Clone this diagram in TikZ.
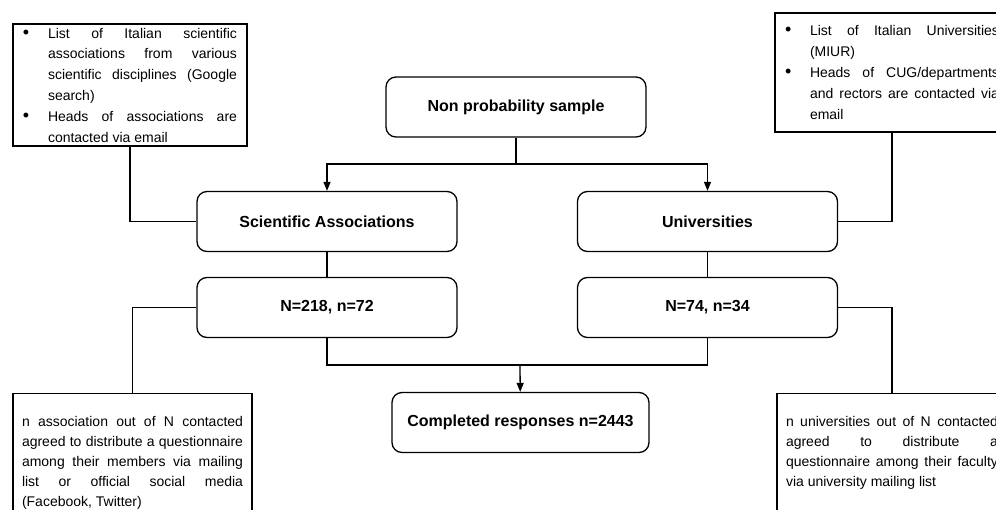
\documentclass[tikz,border=0pt]{standalone}
\usepackage{fontspec}
\setmainfont{Liberation Sans}
\usetikzlibrary{arrows.meta}
\tolerance=10000
\hbadness=10000

\def\flowboxwidth{260pt}
\newcommand{\noteitem}[1]{\noindent\hangindent=25pt\hangafter=1\makebox[25pt][l]{\fontsize{18}{18}\selectfont\textbullet}#1\par}

\begin{document}
\begin{tikzpicture}[x=1pt,y=-1pt,line width=1.3pt,
    flowbox/.style={draw,rounded corners=10pt,minimum width=\flowboxwidth,minimum height=60pt,font=\bfseries\fontsize{16}{19}\selectfont},
    notebox/.style={draw,align=justify,inner xsep=10pt,inner ysep=0pt,font=\fontsize{14}{20.8}\selectfont},
    lownote/.style={notebox,anchor=north,inner xsep=9pt,inner ysep=23pt,text depth=100pt,font=\fontsize{14}{20}\selectfont},
    flowarrow/.style={-{Triangle[length=9pt,width=7pt]}}]
        \useasboundingbox (0,0) rectangle (996,509);
        \clip (0,0) rectangle (996,509);
        \node[flowbox] (nps) at (516,107) {Non probability sample};
        \node[flowbox] (sci) at (327,221.5) {Scientific Associations};
        \node[flowbox] (univ) at (707.5,221.5) {Universities};
        \node[flowbox] (n218) at (327,307.5) {N=218, n=72};
        \node[flowbox] (n74) at (707.5,307.5) {N=74, n=34};
        \node[flowbox,minimum width=257pt] (done) at (520.5,422.5) {Completed responses n=2443};
        \node[notebox,text width=214pt,minimum height=122pt] (tlnote) at (130,85) {\noteitem{List of Italian scientific\linebreak associations from various\linebreak scientific disciplines (Google\linebreak search)}\noteitem{Heads of associations are\linebreak contacted via email}};
        \node[notebox,text width=214pt,minimum height=119pt] (trnote) at (892,72.5) {\noteitem{List of Italian Universities\linebreak (MIUR)}\noteitem{Heads of CUG/departments\linebreak and rectors are contacted via\linebreak email}};
        \node[lownote,text width=221pt] (blnote) at (132.5,393) {n association out of N contacted\linebreak agreed to distribute a questionnaire\linebreak among their members via mailing\linebreak list or official social media\linebreak (Facebook, Twitter)};
        \node[lownote,text width=212pt] (brnote) at (892,393) {n universities out of N contacted\linebreak agreed to distribute a\linebreak questionnaire among their faculty\linebreak via university mailing list};
        \coordinate (split) at (516,164);
        \coordinate (join) at (520,365);
        \draw (nps) -- (split);
        \draw[flowarrow] (split) -| (sci.north);
        \draw[flowarrow] (split) -| (univ.north);
        \draw (sci) -- (n218);
        \draw (univ) -- (n74);
        \draw (n218.south) |- (join) -| (n74.south);
        \draw[flowarrow] (join) -- (done);
        \draw (tlnote.south) |- (sci.west);
        \draw (trnote.south) |- (univ.east);
        \draw (n218.west) -| (blnote.north);
        \draw (n74.east) -| (brnote.north);
    \end{tikzpicture}
\end{document}
